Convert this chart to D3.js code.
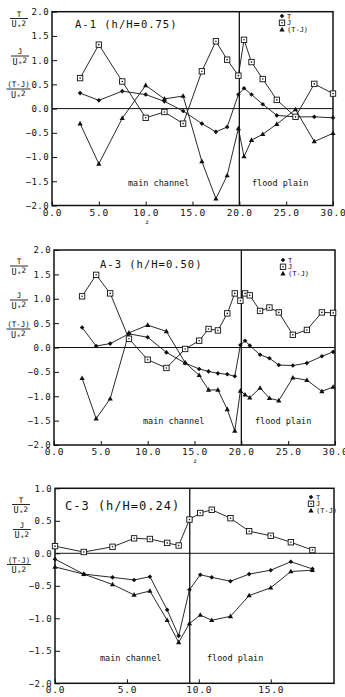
<!DOCTYPE html>
<html>
<head>
<meta charset="utf-8">
<script src="https://cdn.jsdelivr.net/npm/d3@7"></script>
<style>
  body { margin: 0; background: #fff; }
  svg text { font-family: "DejaVu Sans Mono", monospace; fill: #111; }
</style>
</head>
<body>
<svg id="fig" width="345" height="697"></svg>
<script>
// panel A-1 (h/H=0.75)
const a1X  = [3, 5, 7.5, 10, 12, 14, 16, 17.5, 18.7, 19.9, 20.5, 21.3, 22.5, 24, 26, 28, 30];
const a1T  = [0.32, 0.17, 0.36, 0.29, 0.15, -0.05, -0.31, -0.48, -0.38, 0.29, 0.42, 0.29, 0.09, -0.14, -0.17, -0.17, -0.19];
const a1J  = [0.63, 1.32, 0.56, -0.19, -0.07, -0.31, 0.77, 1.39, 1.01, 0.68, 1.42, 0.96, 0.61, 0.18, -0.17, 0.51, 0.31];
const a1TJ = [-0.31, -1.14, -0.20, 0.48, 0.20, 0.26, -1.09, -1.86, -1.38, -0.41, -0.99, -0.65, -0.53, -0.32, -0.02, -0.68, -0.51];

// panel A-3 (h/H=0.50)
const a3X  = [3, 4.5, 6, 8, 10, 12, 14, 15.5, 16.5, 17.5, 18.5, 19.3, 19.9, 20.4, 20.9, 22, 23, 24, 25.5, 27, 28.6, 29.8];
const a3T  = [0.41, 0.03, 0.08, 0.28, 0.21, -0.10, -0.32, -0.44, -0.49, -0.53, -0.55, -0.59, 0.05, 0.14, 0.04, -0.15, -0.22, -0.36, -0.37, -0.32, -0.18, -0.09];
const a3J  = [1.05, 1.49, 1.11, 0.18, -0.25, -0.42, -0.03, 0.14, 0.38, 0.35, 0.70, 1.11, 0.96, 1.11, 1.07, 0.75, 0.82, 0.72, 0.26, 0.36, 0.72, 0.71];
const a3TJ = [-0.63, -1.46, -1.05, 0.30, 0.46, 0.33, -0.31, -0.57, -0.87, -0.87, -1.27, -1.71, -0.89, -0.97, -1.03, -0.83, -1.04, -1.09, -0.62, -0.67, -0.90, -0.81];

// panel C-3 (h/H=0.24)
const c3X  = [0, 2, 4, 5.5, 6.6, 7.8, 8.6, 9.35, 10.1, 10.9, 12.2, 13.5, 15.0, 16.4, 17.9];
const c3T  = [-0.09, -0.32, -0.37, -0.41, -0.36, -0.87, -1.27, -0.56, -0.33, -0.37, -0.43, -0.32, -0.26, -0.13, -0.24];
const c3J  = [0.11, 0.02, 0.10, 0.23, 0.22, 0.16, 0.12, 0.52, 0.62, 0.67, 0.54, 0.34, 0.27, 0.17, 0.05];
const c3TJ = [-0.21, -0.32, -0.48, -0.64, -0.58, -1.03, -1.37, -1.08, -0.95, -1.03, -0.97, -0.65, -0.53, -0.28, -0.26];

const ticksA = [0, 5, 10, 15, 20, 25, 30];
const ticksC = [0, 5, 10, 15];
const yTicksA = [-2, -1.5, -1, -0.5, 0, 0.5, 1, 1.5, 2];
const yTicksC = [-2, -1.5, -1, -0.5, 0, 0.5, 1];
const legendNames = ['T', 'J', '(T-J)'];

const svg = d3.select('#fig');

const panels = [
  { title: 'A-1  (h/H=0.75)', x: a1X, T: a1T, J: a1J, TJ: a1TJ, xDom: [0, 30], yDom: [-2, 2], xt: ticksA, yt: yTicksA,
    left: 52, right: 333, top: 11.7, bottom: 205.5, split: 20, titleX: 75, titleY: 28, titleSize: 10.5,
    legX: 282, legY: 16, mainX: 128, floodX: 252, labY: 186, zX: 147, zY: 223.5,
    fracs: [[19, 16.5, 'T'], [20, 54, 'J'], [18.5, 87, '(T-J)']] },
  { title: 'A-3  (h/H=0.50)', x: a3X, T: a3T, J: a3J, TJ: a3TJ, xDom: [0, 30], yDom: [-2, 2], xt: ticksA, yt: yTicksA,
    left: 54, right: 335, top: 250, bottom: 445, split: 20, titleX: 100, titleY: 268, titleSize: 10.5,
    legX: 283, legY: 260, mainX: 143, floodX: 255, labY: 424, zX: 195, zY: 462.5,
    fracs: [[19, 264, 'T'], [19, 298, 'J'], [18.5, 327, '(T-J)']] },
  { title: 'C-3  (h/H=0.24)', x: c3X, T: c3T, J: c3J, TJ: c3TJ, xDom: [0, 19.4], yDom: [-2, 1], xt: ticksC, yt: yTicksC,
    left: 55, right: 334, top: 488.3, bottom: 683.3, split: 9.37, titleX: 65, titleY: 510, titleSize: 12,
    legX: 311, legY: 497, mainX: 100, floodX: 207, labY: 661, zX: null,
    fracs: [[21, 502.5, 'T'], [22, 527.5, 'J'], [19, 562.5, '(T-J)']] }
];

function drawFrac(g, cx, y, num) {
  g.append('text').attr('x', cx).attr('y', y).attr('text-anchor', 'middle')
    .attr('font-size', 7.5).text(num);
  const w = num.length > 2 ? 24 : 18;
  g.append('line').attr('x1', cx - w / 2).attr('x2', cx + w / 2)
    .attr('y1', y + 2).attr('y2', y + 2).attr('stroke', '#111').attr('stroke-width', 0.9);
  const t = g.append('text').attr('x', cx).attr('y', y + 10.5).attr('text-anchor', 'middle')
    .attr('font-size', 8.5).attr('letter-spacing', 0.4);
  t.append('tspan').text('U');
  t.append('tspan').attr('font-size', 6.5).attr('dy', 1.5).text('*');
  t.append('tspan').attr('font-size', 7.5).attr('dy', -3).text('2');
}

function marker(g, kind, px, py) {
  if (kind === 'T') {
    g.append('path').attr('d', `M${px},${py - 2.3}L${px + 2.3},${py}L${px},${py + 2.3}L${px - 2.3},${py}Z`)
      .attr('fill', '#111');
  } else if (kind === 'J') {
    g.append('rect').attr('x', px - 2.7).attr('y', py - 2.7).attr('width', 5.4).attr('height', 5.4)
      .attr('fill', '#fff').attr('stroke', '#111').attr('stroke-width', 0.9);
    g.append('circle').attr('cx', px).attr('cy', py).attr('r', 0.8).attr('fill', '#111');
  } else {
    g.append('path').attr('d', `M${px},${py - 2.8}L${px + 2.6},${py + 1.8}L${px - 2.6},${py + 1.8}Z`)
      .attr('fill', '#111');
  }
}

panels.forEach(p => {
  const g = svg.append('g');
  const x = d3.scaleLinear().domain(p.xDom).range([p.left, p.right]);
  const y = d3.scaleLinear().domain(p.yDom).range([p.bottom, p.top]);

  // zero line and channel / flood plain boundary
  g.append('line').attr('x1', p.left).attr('x2', p.right).attr('y1', y(0)).attr('y2', y(0))
    .attr('stroke', '#111').attr('stroke-width', 1);
  g.append('line').attr('x1', x(p.split)).attr('x2', x(p.split)).attr('y1', p.top).attr('y2', p.bottom)
    .attr('stroke', '#111').attr('stroke-width', 1.3);

  // axes with inward ticks
  g.append('g').attr('transform', `translate(0,${p.bottom})`)
    .call(d3.axisBottom(x).tickValues(p.xt).tickSize(-4).tickFormat(d3.format('.1f')))
    .call(a => {
      a.select('.domain').remove();
      a.selectAll('line').attr('stroke', '#111');
      a.selectAll('text').attr('font-size', 9.5).attr('letter-spacing', 0.8)
        .attr('y', 3.3).attr('dy', '0.71em').attr('fill', '#111');
    });
  g.append('g').attr('transform', `translate(${p.left},0)`)
    .call(d3.axisLeft(y).tickValues(p.yt).tickSize(-5).tickFormat(d3.format('.1f')))
    .call(a => {
      a.select('.domain').remove();
      a.selectAll('line').attr('stroke', '#111');
      a.selectAll('text').attr('font-size', 9).attr('letter-spacing', 0.4)
        .attr('x', -3).attr('fill', '#111');
    });

  // frame
  g.append('rect').attr('x', p.left).attr('y', p.top)
    .attr('width', p.right - p.left).attr('height', p.bottom - p.top)
    .attr('fill', 'none').attr('stroke', '#111').attr('stroke-width', 1.5);

  const line = d3.line().x(d => x(d[0])).y(d => y(d[1]));
  const series = [['T', p.T], ['J', p.J], ['TJ', p.TJ]];
  series.forEach(([k, vals]) => {
    const pts = p.x.map((v, i) => [v, vals[i]]);
    g.append('path').datum(pts).attr('d', line)
      .attr('fill', 'none').attr('stroke', '#111').attr('stroke-width', 0.9);
  });
  series.forEach(([k, vals]) => {
    p.x.forEach((v, i) => marker(g, k, x(v), y(vals[i])));
  });

  // title and region labels
  g.append('text').attr('x', p.titleX).attr('y', p.titleY).attr('font-size', p.titleSize)
    .attr('letter-spacing', 1).text(p.title);
  g.append('text').attr('x', p.mainX).attr('y', p.labY).attr('font-size', 8.5).text('main channel');
  g.append('text').attr('x', p.floodX).attr('y', p.labY).attr('font-size', 8.5).text('flood plain');

  // legend
  legendNames.forEach((name, i) => {
    const ly = p.legY + i * 6.8;
    marker(g, ['T', 'J', 'TJ'][i], p.legX, ly);
    g.append('text').attr('x', p.legX + 5).attr('y', ly + 2.5).attr('font-size', 7).text(name);
  });

  if (p.zX !== null) {
    g.append('text').attr('x', p.zX).attr('y', p.zY).attr('font-size', 6).attr('text-anchor', 'middle').text('z');
  }

  p.fracs.forEach(f => drawFrac(g, f[0], f[1], f[2]));
});
</script>
</body>
</html>
